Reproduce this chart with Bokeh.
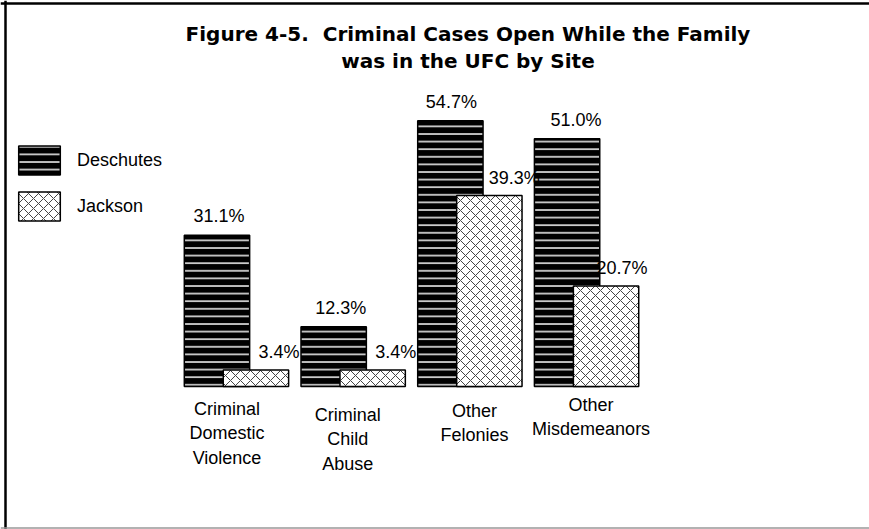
import numpy as np
from bokeh.plotting import figure
from bokeh.models import Range1d, Legend, LegendItem, Span
from bokeh.core.properties import value
from bokeh.embed import file_html
from bokeh.resources import INLINE

# ---- data ----
categories = ["Criminal Domestic Violence", "Criminal Child Abuse", "Other Felonies", "Other Misdemeanors"]
category_lines = [["Criminal", "Domestic", "Violence"], ["Criminal", "Child", "Abuse"], ["Other", "Felonies"], ["Other", "Misdemeanors"]]
deschutes = [31.1, 12.3, 54.7, 51.0]
jackson = [3.4, 3.4, 39.3, 20.7]
series_names = ["Deschutes", "Jackson"]
title_lines = ["Figure 4-5.\u00a0 Criminal Cases Open While the Family", "was in the UFC by Site"]

# ---- layout (pixel mapping) ----
W, H = 869, 529
base_px, ky = 386.0, 4.86      # baseline pixel, px per percent
cx0, kx = 235.5, 116.7         # first group centre pixel, px per group

def px_to_x(px):
    return (px - cx0) / kx

def px_to_y(py):
    return (base_px - py) / ky

p = figure(width=W, height=H, output_backend="svg", toolbar_location=None,
           x_axis_location=None, y_axis_location=None, min_border=0,
           x_range=Range1d(px_to_x(0), px_to_x(W)), y_range=Range1d(px_to_y(H), px_to_y(0)))
p.outline_line_color = None
p.grid.visible = False
p.background_fill_color = "white"
p.border_fill_color = "white"

idx = np.arange(len(categories))
off_d, off_j, bw = -0.163, 0.171, 0.56

FONT = "Liberation Sans"

r_d = p.vbar(x=idx + off_d, top=deschutes, bottom=0, width=bw,
             fill_color="black", line_color="black", line_width=1.5,
             hatch_pattern="horizontal_line", hatch_color="#e6e6e6", hatch_scale=7.6, hatch_weight=1.6)
r_j = p.vbar(x=idx + off_j, top=jackson, bottom=0, width=bw,
             fill_color="white", line_color="black", line_width=1.5,
             hatch_pattern="diagonal_cross", hatch_color="#444444", hatch_scale=10, hatch_weight=1.0)

# value labels
lab_d_dx = [2, 7, 1, 9]
lab_j_dx = [23, 23, 25, 16]
p.text(x=idx + off_d, y=deschutes, text=[f"{v:.1f}%" for v in deschutes], x_offset=lab_d_dx, y_offset=-19,
       text_align="center", text_baseline="middle", text_font=value(FONT), text_font_size="18px", text_color="black")
p.text(x=idx + off_j, y=jackson, text=[f"{v:.1f}%" for v in jackson], x_offset=lab_j_dx, y_offset=-18,
       text_align="center", text_baseline="middle", text_font=value(FONT), text_font_size="18px", text_color="black")

# category labels
cat_dx = [-9, -5, 5, 5]
cat_first = [408, 414, 410, 404]
cx, cy, ct, cdx = [], [], [], []
for i, lines in enumerate(category_lines):
    for j, t in enumerate(lines):
        cx.append(i)
        cy.append(px_to_y(cat_first[i] + 24.5 * j))
        ct.append(t)
        cdx.append(cat_dx[i])
p.text(x=cx, y=cy, text=ct, x_offset=cdx, text_align="center", text_baseline="middle",
       text_font=value(FONT), text_font_size="18px", text_color="black")

# title
p.text(x=[px_to_x(467.5)] * 2, y=[px_to_y(33), px_to_y(60)], text=title_lines,
       text_align="center", text_baseline="middle", text_font=value("DejaVu Sans"),
       text_font_style="bold", text_font_size="20px", text_color="black")

# legend
legend = Legend(items=[LegendItem(label=series_names[0], renderers=[r_d]),
                       LegendItem(label=series_names[1], renderers=[r_j])],
                location=(13, 305), glyph_width=52, glyph_height=36, spacing=10,
                label_standoff=12, padding=0, margin=0, border_line_color=None,
                background_fill_alpha=0, label_text_font=FONT, label_text_font_size="18px",
                label_text_color="black", label_height=36)
p.add_layout(legend)

# frame border
p.add_layout(Span(location=px_to_x(5), dimension="height", line_color="black", line_width=2.5))
p.add_layout(Span(location=px_to_y(3), dimension="width", line_color="black", line_width=2.5))
p.add_layout(Span(location=px_to_y(527.5), dimension="width", line_color="#999999", line_width=1.5))

open("out.html", "w").write(file_html(p, INLINE))
